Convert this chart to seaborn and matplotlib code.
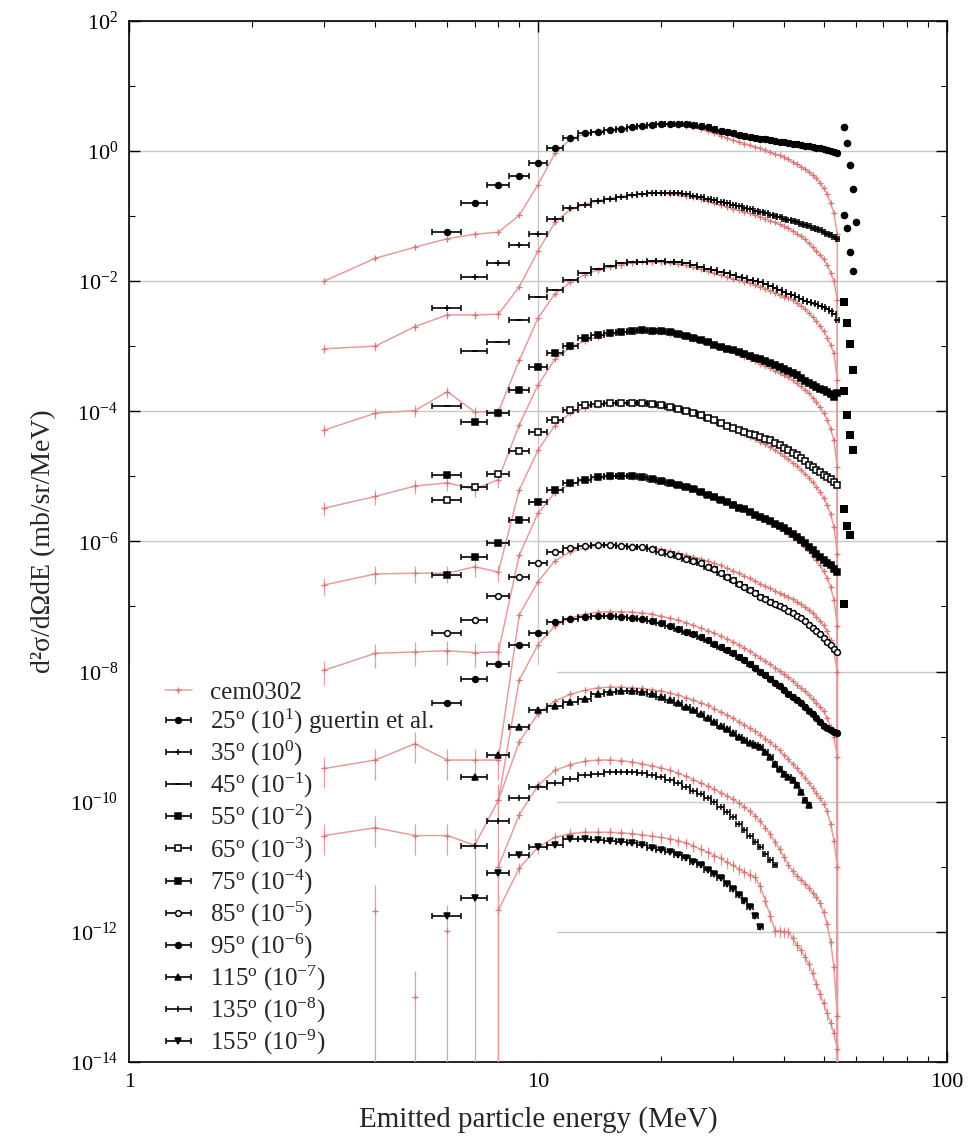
import numpy as np
import pandas as pd
import matplotlib
matplotlib.use("Agg")
import matplotlib.pyplot as plt
import matplotlib.ticker as mticker
from matplotlib.patches import Rectangle
from matplotlib.lines import Line2D
import seaborn as sns

# ------------------------------------------------------------------
# Double-differential cross sections, log10(mb/sr/MeV), 1-MeV bins
# centred on integer energies.  Each angle is drawn multiplied by
# 10**scale_exponent so the spectra stack without overlapping.
# ------------------------------------------------------------------
angles_deg = [25, 35, 45, 55, 65, 75, 85, 95, 115, 135, 155]
scale_exponent = [1, 0, -1, -2, -3, -4, -5, -6, -7, -8, -9]

# measured spectra (Guertin et al.), first bin energy in MeV
exp_first_mev = [6, 6, 6, 6, 6, 6, 6, 6, 7, 7, 6]
guertin_25 = [-2.25, -1.80, -1.53, -1.38, -1.18, -0.95, -0.80, -0.73, -0.71, -0.68, -0.66, -0.64, -0.62, -0.60, -0.59,
              -0.58, -0.58, -0.59, -0.60, -0.62, -0.64, -0.67, -0.69, -0.71, -0.73, -0.75, -0.77, -0.79, -0.80, -0.81,
              -0.82, -0.83, -0.845, -0.86, -0.87, -0.88, -0.89, -0.90, -0.91, -0.92, -0.93, -0.94, -0.95, -0.96, -0.97,
              -0.98, -1.00, -1.02, -1.04]
guertin_35 = [-2.42, -1.94, -1.72, -1.45, -1.28, -1.04, -0.88, -0.83, -0.77, -0.74, -0.705, -0.68, -0.66, -0.65, -0.64,
              -0.64, -0.65, -0.67, -0.69, -0.715, -0.74, -0.76, -0.78, -0.80, -0.83, -0.85, -0.87, -0.90, -0.92, -0.94,
              -0.96, -0.98, -1.00, -1.02, -1.04, -1.06, -1.08, -1.10, -1.12, -1.14, -1.16, -1.18, -1.20, -1.22, -1.24,
              -1.27, -1.29, -1.32, -1.36]
guertin_45 = [-2.92, -2.08, -1.94, -1.60, -1.25, -1.14, -0.99, -0.87, -0.81, -0.77, -0.73, -0.71, -0.70, -0.69, -0.69,
              -0.70, -0.71, -0.73, -0.75, -0.78, -0.81, -0.83, -0.86, -0.88, -0.91, -0.94, -0.96, -0.98, -1.00, -1.02,
              -1.05, -1.08, -1.11, -1.14, -1.17, -1.20, -1.22, -1.25, -1.27, -1.30, -1.32, -1.34, -1.36, -1.38, -1.40,
              -1.43, -1.46, -1.50, -1.60]
guertin_55 = [-2.98, -2.16, -2.02, -1.67, -1.32, -1.11, -1.00, -0.88, -0.83, -0.80, -0.78, -0.76, -0.75, -0.76, -0.77,
              -0.79, -0.81, -0.84, -0.87, -0.91, -0.94, -0.98, -1.01, -1.04, -1.06, -1.09, -1.12, -1.15, -1.18, -1.20,
              -1.23, -1.26, -1.29, -1.32, -1.35, -1.38, -1.41, -1.45, -1.49, -1.53, -1.57, -1.60, -1.63, -1.66, -1.68,
              -1.70, -1.73, -1.78, -1.72]
guertin_65 = [-2.36, -2.17, -1.97, -1.61, -1.32, -1.14, -0.98, -0.91, -0.89, -0.88, -0.87, -0.87, -0.87, -0.89, -0.91,
              -0.93, -0.96, -0.99, -1.02, -1.06, -1.10, -1.14, -1.18, -1.22, -1.26, -1.29, -1.32, -1.35, -1.37, -1.39,
              -1.42, -1.45, -1.49, -1.52, -1.56, -1.60, -1.64, -1.68, -1.72, -1.77, -1.82, -1.86, -1.90, -1.94, -1.98,
              -2.01, -2.04, -2.09, -2.14]
guertin_75 = [-2.51, -2.24, -2.03, -1.67, -1.39, -1.21, -1.11, -1.06, -1.01, -1.00, -1.00, -1.00, -1.01, -1.04, -1.07,
              -1.10, -1.13, -1.17, -1.20, -1.24, -1.28, -1.32, -1.36, -1.40, -1.44, -1.48, -1.51, -1.55, -1.59, -1.62,
              -1.66, -1.69, -1.73, -1.76, -1.80, -1.84, -1.89, -1.94, -1.98, -2.03, -2.08, -2.13, -2.19, -2.24, -2.29,
              -2.33, -2.37, -2.42, -2.47]
guertin_85 = [-2.41, -2.21, -1.84, -1.55, -1.34, -1.16, -1.10, -1.07, -1.06, -1.06, -1.07, -1.08, -1.09, -1.12, -1.16,
              -1.19, -1.23, -1.27, -1.30, -1.34, -1.39, -1.43, -1.48, -1.54, -1.60, -1.65, -1.70, -1.75, -1.80, -1.86,
              -1.89, -1.93, -1.96, -2.00, -2.03, -2.07, -2.10, -2.14, -2.18, -2.23, -2.28, -2.33, -2.38, -2.43, -2.48,
              -2.54, -2.59, -2.65, -2.70]
guertin_95 = [-2.49, -2.12, -1.88, -1.59, -1.41, -1.24, -1.19, -1.16, -1.15, -1.15, -1.16, -1.17, -1.19, -1.22, -1.26,
              -1.30, -1.34, -1.39, -1.43, -1.47, -1.52, -1.57, -1.62, -1.67, -1.72, -1.78, -1.83, -1.89, -1.94, -2.00,
              -2.06, -2.12, -2.17, -2.23, -2.29, -2.34, -2.39, -2.44, -2.49, -2.54, -2.60, -2.66, -2.72, -2.78, -2.83,
              -2.87, -2.90, -2.93, -2.95]
guertin_115 = [-2.62, -2.29, -1.85, -1.59, -1.53, -1.47, -1.42, -1.34, -1.31, -1.30, -1.30, -1.31, -1.34, -1.39, -1.43,
               -1.48, -1.54, -1.59, -1.65, -1.71, -1.77, -1.83, -1.89, -1.95, -2.00, -2.05, -2.10, -2.13, -2.16, -2.24,
               -2.32, -2.42, -2.50, -2.57, -2.62, -2.67, -2.75, -2.85, -2.98, -3.05]
guertin_135 = [-2.68, -2.29, -1.95, -1.77, -1.72, -1.65, -1.59, -1.57, -1.55, -1.54, -1.55, -1.56, -1.59, -1.62, -1.67,
               -1.72, -1.77, -1.83, -1.88, -1.94, -2.01, -2.08, -2.16, -2.24, -2.34, -2.44, -2.53, -2.62, -2.70, -2.80,
               -2.89, -2.98]
guertin_155 = [-2.76, -2.48, -2.10, -1.82, -1.70, -1.67, -1.58, -1.58, -1.59, -1.60, -1.62, -1.64, -1.67, -1.71, -1.75,
               -1.78, -1.82, -1.87, -1.92, -1.98, -2.05, -2.11, -2.18, -2.26, -2.34, -2.43, -2.52, -2.62, -2.75, -2.93]

# isolated high-energy bins beyond the continuum, starting at 56 MeV
tail_first_mev = 56
tail_25 = [-0.64, -0.875, -1.22, -1.59, -2.10]
tail_35 = [-0.99, -1.19, -1.56, -1.84]
tail_45 = [-1.32, -1.64, -1.97, -2.36]
tail_55 = [-1.69, -2.06, -2.37, -2.59]
tail_65 = [-2.50, -2.76, -2.90]
tail_75 = [-2.96]

# CEM03.02 calculation, first bin energy in MeV (None = empty bin)
cem_first_mev = [3, 3, 3, 3, 3, 3, 3, 3, 8, 8, 8]
cem_endpoint_mev = 55
cem_25 = [-3.00, -2.65, -2.48, -2.35, -2.28, -2.25, -1.99, -1.52, -1.04, -0.82, -0.74, -0.70, -0.67, -0.65, -0.63,
          -0.61, -0.60, -0.59, -0.59, -0.60, -0.62, -0.64, -0.67, -0.70, -0.73, -0.77, -0.80, -0.84, -0.86, -0.89,
          -0.91, -0.94, -0.96, -0.99, -1.02, -1.05, -1.07, -1.10, -1.13, -1.17, -1.20, -1.24, -1.28, -1.32, -1.37,
          -1.42, -1.49, -1.57, -1.66, -1.80, -1.96, -2.27]
cem_35 = [-3.04, -3.00, -2.70, -2.52, -2.52, -2.51, -2.09, -1.54, -1.10, -0.90, -0.82, -0.77, -0.73, -0.70, -0.68,
          -0.66, -0.65, -0.65, -0.66, -0.67, -0.69, -0.71, -0.74, -0.77, -0.80, -0.83, -0.86, -0.89, -0.91, -0.94,
          -0.96, -0.99, -1.01, -1.04, -1.07, -1.10, -1.13, -1.16, -1.19, -1.23, -1.27, -1.31, -1.36, -1.42, -1.48,
          -1.54, -1.60, -1.66, -1.75, -1.87, -2.00, -2.29]
cem_45 = [-3.29, -3.03, -2.99, -2.70, -3.01, -3.01, -2.22, -1.57, -1.20, -1.02, -0.90, -0.83, -0.78, -0.75, -0.72,
          -0.71, -0.71, -0.71, -0.72, -0.74, -0.76, -0.79, -0.82, -0.85, -0.88, -0.91, -0.94, -0.97, -0.99, -1.01,
          -1.03, -1.06, -1.09, -1.12, -1.15, -1.18, -1.21, -1.24, -1.26, -1.29, -1.33, -1.38, -1.43, -1.49, -1.55,
          -1.62, -1.69, -1.77, -1.87, -1.98, -2.11, -2.52]
cem_55 = [-3.49, -3.31, -3.15, -3.10, -3.20, -3.05, -2.21, -1.60, -1.20, -1.02, -0.92, -0.86, -0.82, -0.79, -0.77,
          -0.77, -0.78, -0.79, -0.81, -0.83, -0.86, -0.89, -0.91, -0.94, -0.97, -1.01, -1.05, -1.08, -1.12, -1.16,
          -1.20, -1.23, -1.27, -1.30, -1.34, -1.38, -1.41, -1.45, -1.48, -1.52, -1.57, -1.62, -1.67, -1.72, -1.79,
          -1.86, -1.94, -2.02, -2.13, -2.27, -2.45, -2.86]
cem_65 = [-3.67, -3.50, -3.49, -3.49, -3.39, -3.47, -2.21, -1.60, -1.22, -1.03, -0.95, -0.91, -0.89, -0.88, -0.88,
          -0.89, -0.90, -0.92, -0.94, -0.97, -1.00, -1.03, -1.07, -1.11, -1.15, -1.19, -1.23, -1.27, -1.31, -1.35,
          -1.39, -1.43, -1.47, -1.51, -1.55, -1.60, -1.64, -1.69, -1.74, -1.79, -1.84, -1.90, -1.96, -2.02, -2.09,
          -2.16, -2.24, -2.33, -2.44, -2.58, -2.78, -3.20]
cem_75 = [-3.98, -3.72, -3.70, -3.68, -3.71, -3.70, -2.21, -1.57, -1.25, -1.12, -1.06, -1.03, -1.01, -1.00, -1.01,
          -1.02, -1.04, -1.06, -1.09, -1.12, -1.15, -1.19, -1.22, -1.26, -1.30, -1.34, -1.38, -1.42, -1.46, -1.50,
          -1.54, -1.58, -1.62, -1.66, -1.70, -1.74, -1.79, -1.83, -1.88, -1.93, -1.98, -2.03, -2.09, -2.15, -2.22,
          -2.29, -2.37, -2.46, -2.56, -2.70, -2.90, -3.30]
cem_85 = [-4.49, -4.36, -4.11, -4.36, -4.36, -4.36, -2.13, -1.62, -1.30, -1.16, -1.10, -1.07, -1.06, -1.06, -1.07,
          -1.08, -1.10, -1.12, -1.15, -1.18, -1.21, -1.24, -1.27, -1.30, -1.34, -1.37, -1.41, -1.45, -1.49, -1.53,
          -1.57, -1.61, -1.65, -1.69, -1.72, -1.76, -1.80, -1.83, -1.86, -1.89, -1.93, -1.97, -2.01, -2.05, -2.10,
          -2.16, -2.22, -2.29, -2.38, -2.52, -2.70, -3.00]
cem_95 = [-4.52, -4.40, -4.52, -4.52, -4.67, -3.98, -2.13, -1.59, -1.30, -1.18, -1.12, -1.09, -1.08, -1.08, -1.09,
          -1.10, -1.12, -1.15, -1.18, -1.21, -1.25, -1.29, -1.33, -1.37, -1.41, -1.45, -1.50, -1.54, -1.59, -1.64,
          -1.69, -1.74, -1.79, -1.84, -1.89, -1.94, -1.99, -2.04, -2.09, -2.14, -2.20, -2.25, -2.30, -2.36, -2.42,
          -2.48, -2.54, -2.60, -2.72, -2.85, -3.00, -3.31]
cem_115 = [-2.98, -2.08, -1.65, -1.45, -1.35, -1.29, -1.25, -1.24, -1.24, -1.25, -1.26, -1.28, -1.30, -1.33, -1.36,
           -1.40, -1.44, -1.48, -1.52, -1.57, -1.62, -1.67, -1.72, -1.77, -1.82, -1.87, -1.92, -1.97, -2.03, -2.09,
           -2.15, -2.21, -2.28, -2.35, -2.42, -2.49, -2.56, -2.63, -2.71, -2.79, -2.87, -2.95, -3.03, -3.15, -3.34,
           -3.60, -4.00]
cem_135 = [-3.00, -2.20, -1.75, -1.52, -1.43, -1.38, -1.36, -1.36, -1.37, -1.39, -1.42, -1.45, -1.48, -1.52, -1.56,
           -1.61, -1.66, -1.71, -1.76, -1.81, -1.86, -1.91, -1.96, -2.02, -2.08, -2.15, -2.22, -2.30, -2.40, -2.50,
           -2.62, -2.73, -2.85, -2.97, -3.07, -3.14, -3.20, -3.26, -3.32, -3.40, -3.46, -3.55, -3.70, -3.88, -4.15,
           -4.54, -5.30]
cem_155 = [-2.67, -2.02, -1.70, -1.55, -1.49, -1.47, -1.47, -1.47, -1.48, -1.49, -1.51, -1.53, -1.55, -1.57, -1.60,
           -1.63, -1.68, -1.73, -1.78, -1.83, -1.87, -1.93, -1.98, -2.03, -2.08, -2.12, -2.16, -2.30, -2.52, -2.75,
           -2.98, -2.99, -3.00, -3.00, -3.10, -3.20, -3.28, -3.38, -3.50, -3.64, -3.80, -3.95, -4.10, -4.25, -4.40,
           -4.56, -4.80]
# low-statistics CEM bins at 155 deg that are not joined to the curve
cem_155_sparse_mev = [4, 5, 6]
cem_155_sparse = [-2.68, -4.00, -2.98]

# relative statistical errors of the calculation
cem_rel_err = [0.03, 0.03, 0.04, 0.05, 0.06, 0.07, 0.08, 0.10, 0.12, 0.15, 0.20]
cem_low_rel_err = [0.10, 0.15, 0.20, 0.25, 0.30, 0.40, 0.50, 0.50, 0.60, 0.60, 0.60]
cem_err_to_zero_mev = {95: [7], 115: [8], 135: [8], 155: [8]}

exp_series = [guertin_25, guertin_35, guertin_45, guertin_55, guertin_65, guertin_75,
              guertin_85, guertin_95, guertin_115, guertin_135, guertin_155]
tail_series = {25: tail_25, 35: tail_35, 45: tail_45, 55: tail_55, 65: tail_65, 75: tail_75}
cem_series = [cem_25, cem_35, cem_45, cem_55, cem_65, cem_75, cem_85, cem_95, cem_115, cem_135, cem_155]

# ------------------------------------------------------------------
# styling
# ------------------------------------------------------------------
sns.set_theme(style="ticks")
plt.rcParams["font.family"] = ["Liberation Serif", "DejaVu Serif"]
plt.rcParams["mathtext.fontset"] = "custom"
plt.rcParams["mathtext.rm"] = "Liberation Serif"
plt.rcParams["mathtext.it"] = "Liberation Serif:italic"
plt.rcParams["mathtext.bf"] = "Liberation Serif:bold"
plt.rcParams["axes.unicode_minus"] = False

CEM_LINE = "#e59d9d"
CEM_MARK = "#d77777"
GRID = "#c8c8c8"
markers = ["o", "+", "_", "s", "s", "s", "o", "o", "^", "|", "v"]
open_marker = [False, False, False, False, True, False, True, False, False, False, False]

fig = plt.figure(figsize=(9.72, 11.39), dpi=100)
ax = fig.add_axes([0.1330, 0.0676, 0.8409, 0.9142])


def finite_runs(values):
    """Index ranges of consecutive finite entries."""
    ok = np.isfinite(values)
    runs, start = [], None
    for k, flag in enumerate(ok):
        if flag and start is None:
            start = k
        elif not flag and start is not None:
            runs.append((start, k))
            start = None
    if start is not None:
        runs.append((start, len(values)))
    return runs


exp_handles = []
for i, ang in enumerate(angles_deg):
    factor = 10.0 ** scale_exponent[i]

    # --- calculation ---
    cem_log = np.array([np.nan if v is None else v for v in cem_series[i]], dtype=float)
    cem_e = cem_first_mev[i] + np.arange(len(cem_log))
    cem_y = 10.0 ** cem_log * factor
    runs = finite_runs(cem_log)
    for r, (a, b) in enumerate(runs):
        seg_e = list(cem_e[a:b])
        seg_y = list(cem_y[a:b])
        if r == len(runs) - 1:
            # spectrum ends at the kinematic limit
            seg_e.append(cem_endpoint_mev)
            seg_y.append(0.0)
        sns.lineplot(x=seg_e, y=seg_y, ax=ax, color=CEM_LINE, lw=1.1, sort=False,
                     estimator=None, legend=False, zorder=3)
    rel = np.where(cem_e < 9, cem_low_rel_err[i], cem_rel_err[i])
    lo = cem_y * rel
    hi = cem_y * rel
    for e0 in cem_err_to_zero_mev.get(ang, []):
        k = int(e0 - cem_first_mev[i])
        lo[k] = cem_y[k]
        hi[k] = cem_y[k] * 0.8
    ok = np.isfinite(cem_y)
    ax.errorbar(cem_e[ok], cem_y[ok], yerr=[lo[ok], hi[ok]], fmt="+", ms=4, mew=0.9,
                color=CEM_MARK, ecolor=CEM_LINE, elinewidth=0.9, capsize=0, zorder=3.2)
    if ang == 155:
        sp_y = 10.0 ** np.array(cem_155_sparse) * factor
        ax.errorbar(cem_155_sparse_mev, sp_y, yerr=[sp_y, sp_y * 1.5], fmt="+", ms=4, mew=0.9,
                    color=CEM_MARK, ecolor=CEM_LINE, elinewidth=0.9, capsize=0, zorder=3.2)

    # --- measurement ---
    vals = np.array(exp_series[i], dtype=float)
    e = exp_first_mev[i] + np.arange(len(vals))
    y = 10.0 ** vals * factor
    mfc = "white" if open_marker[i] else "black"
    h = ax.errorbar(e, y, xerr=0.5, fmt=markers[i], ms=4.2, mew=1.1, mfc=mfc, mec="black",
                    color="black", ecolor="black", elinewidth=1.2, capsize=2.2, capthick=1.1, zorder=5)
    exp_handles.append(h)
    if ang in tail_series:
        t = np.array(tail_series[ang], dtype=float)
        te = tail_first_mev + np.arange(len(t))
        sns.scatterplot(x=te, y=10.0 ** t * factor, ax=ax, marker="o" if ang < 45 else "s",
                        s=30, color="black", edgecolor="black", linewidth=0, zorder=5, legend=False)

# ------------------------------------------------------------------
# axes
# ------------------------------------------------------------------
ax.set_xscale("log")
ax.set_yscale("log", nonpositive="clip")
ax.set_xlim(1, 100)
ax.set_ylim(1e-14, 1e2)

ax.yaxis.set_major_locator(mticker.FixedLocator([10.0 ** k for k in range(-14, 3, 2)]))
ax.yaxis.set_minor_locator(mticker.FixedLocator([10.0 ** k for k in range(-13, 2, 2)]))
ax.yaxis.set_major_formatter(mticker.LogFormatterMathtext())
ax.yaxis.set_minor_formatter(mticker.NullFormatter())
ax.xaxis.set_major_locator(mticker.FixedLocator([1, 10, 100]))
ax.xaxis.set_minor_locator(mticker.LogLocator(base=10, subs=np.arange(2, 10)))
ax.xaxis.set_major_formatter(mticker.FuncFormatter(lambda v, p: f"{v:g}"))
ax.xaxis.set_minor_formatter(mticker.NullFormatter())

ax.tick_params(which="both", direction="in", top=True, right=True, colors="black")
ax.tick_params(which="major", length=8, width=1.0, labelsize=16, pad=8)
ax.tick_params(which="minor", length=4, width=0.8)
for s in ax.spines.values():
    s.set_linewidth(1.2)
    s.set_color("black")

ax.set_axisbelow(True)
ax.grid(True, which="major", axis="y", color=GRID, lw=1.0)
ax.grid(True, which="major", axis="x", color=GRID, lw=1.0)
# keep the key area clear of grid lines
ax.add_patch(Rectangle((0, 0), 0.523, 0.381, transform=ax.transAxes, facecolor="white",
                       edgecolor="none", zorder=1))

ax.set_xlabel("Emitted particle energy (MeV)", fontsize=21, labelpad=10)
ax.set_ylabel("d²σ/dΩdE (mb/sr/MeV)", fontsize=20, labelpad=10)

cem_handle = Line2D([], [], color=CEM_LINE, lw=1.1, marker="+", ms=5, mew=1.0, mec=CEM_MARK)
labels = ["cem0302"]
for i, ang in enumerate(angles_deg):
    lab = rf"{ang}$^{{\mathrm{{o}}}}$ (10$^{{{scale_exponent[i]}}}$)"
    if i == 0:
        lab += " guertin et al."
    labels.append(lab)
leg = ax.legend([cem_handle] + exp_handles, labels, loc="lower left", bbox_to_anchor=(0.025, -0.01),
                frameon=False, fontsize=18, handlelength=1.1, handletextpad=0.7, labelspacing=0.12,
                borderaxespad=0.2)
leg.set_zorder(6)

fig.savefig("out.png", dpi=100)
